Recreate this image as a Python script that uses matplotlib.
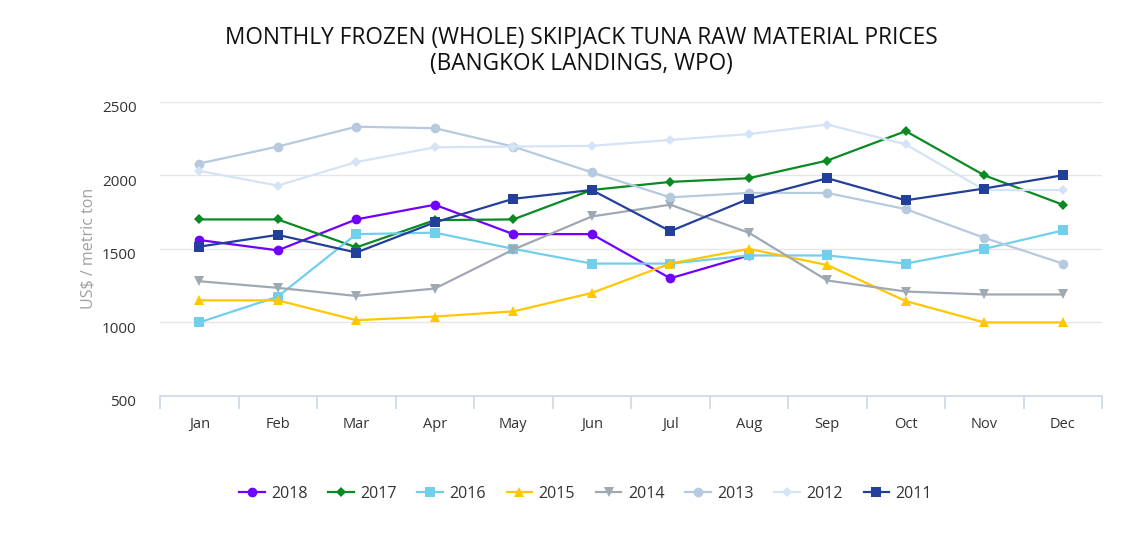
import matplotlib
matplotlib.use("Agg")
import matplotlib.pyplot as plt
import matplotlib.transforms as mtrans
import numpy as np

months = ["Jan", "Feb", "Mar", "Apr", "May", "Jun", "Jul", "Aug", "Sep", "Oct", "Nov", "Dec"]
years = ["2018", "2017", "2016", "2015", "2014", "2013", "2012", "2011"]

v2018 = [1560, 1490, 1700, 1800, 1600, 1600, 1300, 1455, None, None, None, None]
v2017 = [1700, 1700, 1510, 1695, 1700, 1900, 1955, 1980, 2100, 2300, 2000, 1800]
v2016 = [1000, 1175, 1600, 1610, 1500, 1400, 1400, 1455, 1455, 1400, 1500, 1625]
v2015 = [1150, 1150, 1015, 1040, 1075, 1200, 1400, 1500, 1390, 1145, 1000, 1000]
v2014 = [1280, 1235, 1180, 1230, 1495, 1720, 1800, 1610, 1285, 1210, 1190, 1190]
v2013 = [2080, 2195, 2330, 2320, 2195, 2020, 1850, 1880, 1880, 1770, 1575, 1400]
v2012 = [2030, 1930, 2090, 2190, 2195, 2200, 2240, 2280, 2345, 2210, 1900, 1900]
v2011 = [1515, 1595, 1475, 1680, 1840, 1900, 1620, 1840, 1980, 1830, 1910, 2000]

series = [v2018, v2017, v2016, v2015, v2014, v2013, v2012, v2011]
colors = ["#7000ff", "#0a8a23", "#71cfeb", "#ffc700", "#9fa9b3", "#b6cadf", "#d5e3f6", "#22409a"]
markers = ["o", "D", "s", "^", "v", "o", "D", "s"]
msizes = [7, 5, 6.5, 7, 7, 7, 5, 6.5]

plt.rcParams['font.family'] = ['Open Sans', 'DejaVu Sans']

W, H = 1126, 541
fig = plt.figure(figsize=(W / 100, H / 100), dpi=100)
left, right, top, bottom = 160, 1102, 101.7, 396
ax = fig.add_axes([left / W, 1 - bottom / H, (right - left) / W, (bottom - top) / H])

x = np.arange(len(months))
for vals, c, m, ms, lab in zip(series, colors, markers, msizes, years):
    y = np.array([np.nan if v is None else v for v in vals], dtype=float)
    ax.plot(x, y, color=c, marker=m, markersize=ms, linewidth=1.6, label=lab,
            markeredgewidth=0, zorder=3)

ax.set_xlim(-0.5, len(months) - 0.5)
ax.set_ylim(500, 2500)
ax.set_yticks([500, 1000, 1500, 2000, 2500])
ax.grid(axis='y', color='#e6e6e6', linewidth=1)
ax.set_axisbelow(True)
for s in ['top', 'right', 'left']:
    ax.spines[s].set_visible(False)
ax.spines['bottom'].set_color('#ccd6eb')
ax.spines['bottom'].set_linewidth(1.2)

ax.set_xticks(x)
ax.set_xticklabels(months, fontsize=10.5, color='#333333')
ax.tick_params(axis='x', length=0, pad=15)
ax.set_xticks(np.arange(-0.5, len(months)), minor=True)
ax.tick_params(axis='x', which='minor', length=9, color='#ccd6eb', width=1.2)
ax.tick_params(axis='y', length=0, pad=17, labelsize=11, labelcolor='#333333')
offset = mtrans.ScaledTranslation(0, -5 / 100, fig.dpi_scale_trans)
for lbl in ax.get_yticklabels():
    lbl.set_transform(lbl.get_transform() + offset)

ax.set_ylabel("US$ / metric ton", fontsize=11.5, color='#a0a0a0', labelpad=4)

fig.text(0.516, 1 - 37 / H, "MONTHLY FROZEN (WHOLE) SKIPJACK TUNA RAW MATERIAL PRICES",
         ha='center', va='center', fontsize=16.3, color='#111111', fontweight='medium')
fig.text(0.516, 1 - 64 / H, "(BANGKOK LANDINGS, WPO)",
         ha='center', va='center', fontsize=16.3, color='#111111', fontweight='medium')

leg = fig.legend(loc='center', bbox_to_anchor=(0.52, 1 - 494 / H), ncol=8, frameon=False,
                 fontsize=11.5, handlelength=1.6, columnspacing=1.3, handletextpad=0.4)
for t in leg.get_texts():
    t.set_color('#333333')

fig.savefig("out.png", dpi=100)
